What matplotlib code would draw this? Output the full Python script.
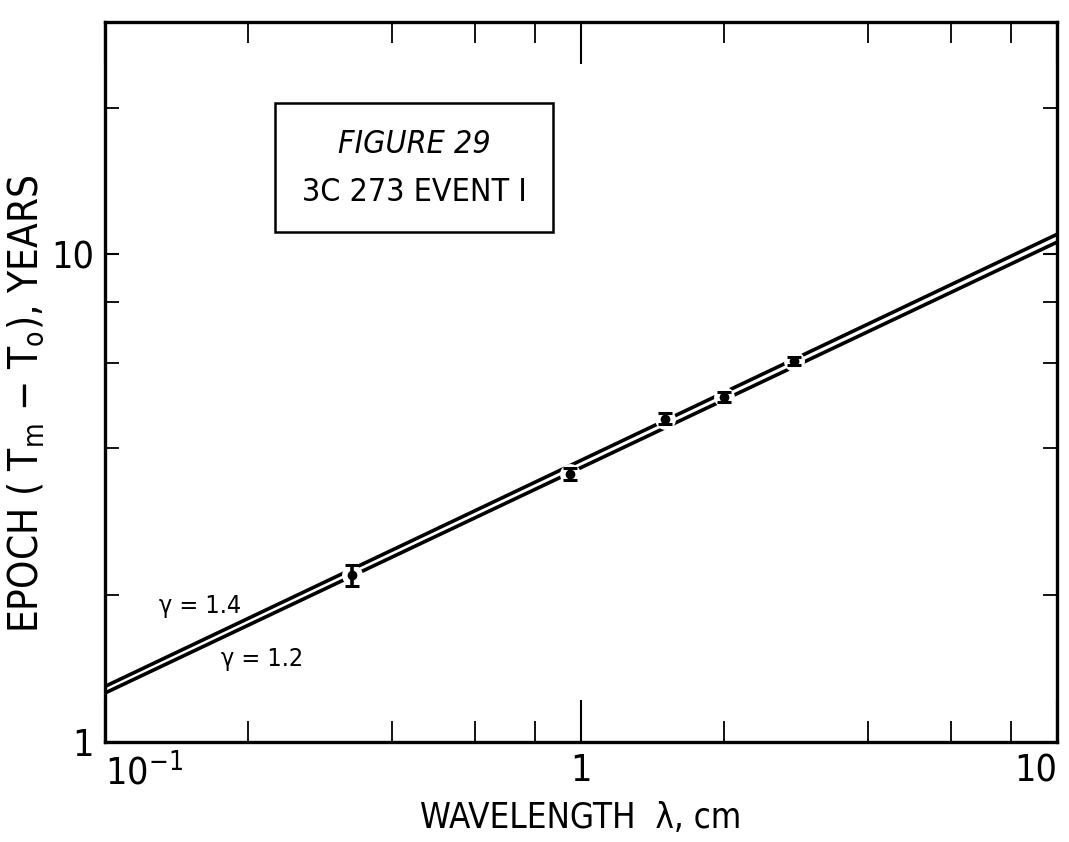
import numpy as np
import matplotlib
matplotlib.use("Agg")
import matplotlib.pyplot as plt
from matplotlib.patches import Rectangle
from matplotlib.ticker import FixedLocator, NullFormatter

# measured epochs of the outburst maximum vs wavelength
wavelength = [0.33, 0.95, 1.5, 2.0, 2.8]        # cm
epoch = [2.2, 3.55, 4.6, 5.1, 6.05]             # years
epoch_err = [0.11, 0.1, 0.12, 0.12, 0.12]

# model lines, end points at 0.1 cm and 10 cm
line_x = [0.1, 10.0]
gamma14 = [1.30, 11.0]
gamma12 = [1.26, 10.6]

plt.rcParams["font.family"] = "DejaVu Sans"
plt.rcParams["font.stretch"] = "condensed"
plt.rcParams["mathtext.fontset"] = "custom"
plt.rcParams["mathtext.rm"] = "DejaVu Sans"

fig = plt.figure(figsize=(10.69, 8.42), dpi=100)
ax = fig.add_axes([0.0982, 0.1188, 0.8906, 0.8552])

ax.plot(line_x, gamma14, color="black", lw=2.6, solid_capstyle="butt", zorder=2)
ax.plot(line_x, gamma12, color="black", lw=2.6, solid_capstyle="butt", zorder=2)

# white gap around each point, then the error bars
ax.plot(wavelength, epoch, "o", ms=15, color="white", mec="none", zorder=3)
ax.errorbar(wavelength, epoch, yerr=epoch_err, fmt="o", ms=6, color="black",
            elinewidth=2.6, capsize=5, capthick=2.2, zorder=4)

ax.set_xscale("log")
ax.set_yscale("log")
ax.set_xlim(0.1, 10)
ax.set_ylim(1, 30)

ax.xaxis.set_major_locator(FixedLocator([0.1, 1, 10]))
ax.xaxis.set_minor_locator(FixedLocator([0.2, 0.4, 0.6, 0.8, 2, 4, 6, 8]))
ax.yaxis.set_major_locator(FixedLocator([1, 10]))
ax.yaxis.set_minor_locator(FixedLocator([2, 4, 6, 8, 20]))
ax.xaxis.set_minor_formatter(NullFormatter())
ax.yaxis.set_minor_formatter(NullFormatter())
ax.set_xticklabels(["$10^{-1}$", "1", "10"])
ax.set_yticklabels(["1", "10"])

ax.tick_params(axis="x", which="major", direction="in", length=30, width=1.5,
               top=True, labelsize=27, pad=8)
ax.tick_params(axis="x", which="minor", direction="in", length=15, width=1.3, top=True)
ax.tick_params(axis="y", which="major", direction="in", length=10, width=1.5,
               right=True, labelsize=27, pad=8)
ax.tick_params(axis="y", which="minor", direction="in", length=10, width=1.3, right=True)
ax.get_xticklabels()[0].set_horizontalalignment("left")
ax.get_xticklabels()[2].set_horizontalalignment("right")

for s in ax.spines.values():
    s.set_linewidth(2.4)

ax.set_xlabel("WAVELENGTH  λ, cm", fontsize=25, labelpad=6)
ax.set_ylabel(r"EPOCH ( T$_\mathrm{m}$ $-$ T$_\mathrm{o}$), YEARS", fontsize=29, labelpad=6)
ax.yaxis.set_label_coords(-0.062, 0.47)

# title box
ax.add_patch(Rectangle((0.1786, 0.7083), 0.292, 0.1792, transform=ax.transAxes,
                       fill=False, lw=1.8, color="black"))
ax.text(0.3246, 0.83, "FIGURE 29", transform=ax.transAxes, fontsize=23,
        style="italic", ha="center", va="center")
ax.text(0.3246, 0.763, "3C 273 EVENT I", transform=ax.transAxes, fontsize=23,
        ha="center", va="center")

ax.text(0.13, 1.9, "γ = 1.4", fontsize=18, ha="left", va="center")
ax.text(0.175, 1.48, "γ = 1.2", fontsize=18, ha="left", va="center")

fig.savefig("out.png", dpi=100)
